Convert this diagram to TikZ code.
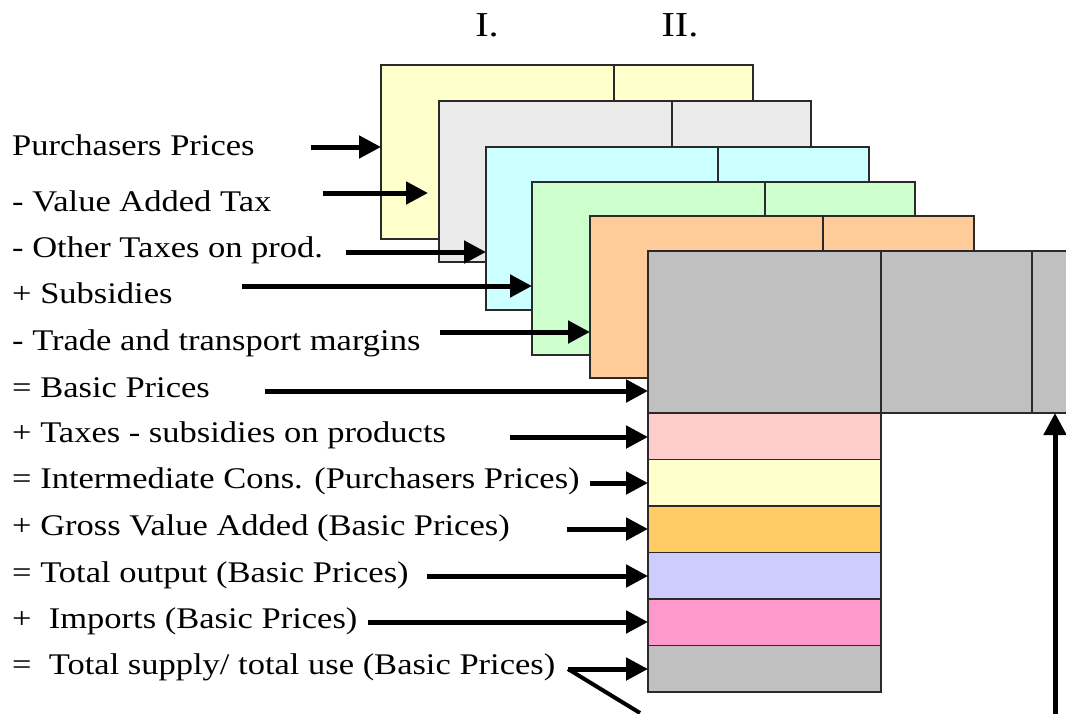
\documentclass[tikz,border=0pt]{standalone}
\usepackage{fontspec}
\setmainfont{Liberation Serif}[FakeStretch=1.15]
\usetikzlibrary{arrows.meta}
\definecolor{cYel}{HTML}{FFFFCC}
\definecolor{cGry}{HTML}{EAEAEA}
\definecolor{cCya}{HTML}{CCFFFF}
\definecolor{cGrn}{HTML}{CCFFCC}
\definecolor{cOra}{HTML}{FFCC99}
\definecolor{cSil}{HTML}{C0C0C0}
\definecolor{cPnk}{HTML}{FFCCCC}
\definecolor{cGld}{HTML}{FFCC66}
\definecolor{cLav}{HTML}{CCCCFF}
\definecolor{cRos}{HTML}{FF99CC}
\definecolor{cEdge}{HTML}{2A2A2A}
\tikzset{
  sheet/.style={draw=cEdge, line width=1.3pt, anchor=north west, inner sep=0pt, outer sep=0pt},
  divider/.style={draw=cEdge, line width=1.6pt},
  rowbox/.style={draw=cEdge, line width=1.3pt, anchor=north west, inner sep=0pt, outer sep=0pt,
    minimum width=233pt, minimum height=46.5pt},
  lab/.style={anchor=base west, inner sep=0pt, font=\fontsize{30}{34}\selectfont},
  ttl/.style={anchor=base, inner sep=0pt, font=\fontsize{35}{40}\selectfont},
  arr/.style={line width=5pt, -{Triangle[length=22pt,width=22pt]}},
  plain/.style={line width=5pt}
}
\begin{document}
\begin{tikzpicture}[x=1pt,y=-1pt]
\clip (0,0) rectangle (1066,713);
\fill[white] (0,0) rectangle (1066,713);
% titles
\node[ttl] (t1) at (487,36) {I.};
\node[ttl] (t2) at (680,36) {II.};
% sheets
\node[sheet, fill=cYel, minimum width=372pt, minimum height=174pt] (s1) at (381,65) {};
\draw[divider] (614,65) -- (614,239);
\node[sheet, fill=cGry, minimum width=372pt, minimum height=161pt] (s2) at (439,101) {};
\draw[divider] (672,101) -- (672,262);
\node[sheet, fill=cCya, minimum width=383pt, minimum height=163pt] (s3) at (486,147) {};
\draw[divider] (718,147) -- (718,310);
\node[sheet, fill=cGrn, minimum width=383pt, minimum height=173pt] (s4) at (532,182) {};
\draw[divider] (765,182) -- (765,355);
\node[sheet, fill=cOra, minimum width=384pt, minimum height=162pt] (s5) at (590,216) {};
\draw[divider] (823,216) -- (823,378);
\node[sheet, fill=cSil, minimum width=440pt, minimum height=162pt] (s6) at (648,251) {};
\draw[divider] (881,251) -- (881,413);
\draw[divider] (1032,251) -- (1032,413);
% stacked rows
\node[rowbox, fill=cPnk] (r1) at (648,413) {};
\node[rowbox, fill=cYel] (r2) at (648,459.5) {};
\node[rowbox, fill=cGld] (r3) at (648,506) {};
\node[rowbox, fill=cLav] (r4) at (648,552.5) {};
\node[rowbox, fill=cRos] (r5) at (648,599) {};
\node[rowbox, fill=cSil] (r6) at (648,645.5) {};
% labels
\node[lab] (l1) at (12,155) {Purchasers Prices};
\node[lab] (l2) at (12,211) {- Value Added Tax};
\node[lab] (l3) at (12,257) {- Other Taxes on prod.};
\node[lab] (l4) at (12,303) {+ Subsidies};
\node[lab] (l5) at (12,350) {- Trade and transport margins};
\node[lab] (l6) at (12,397) {= Basic Prices};
\node[lab] (l7) at (12,442) {+ Taxes - subsidies on products};
\node[lab] (l8) at (12,488) {= Intermediate Cons. (Purchasers Prices)};
\node[lab] (l9) at (12,535) {+ Gross Value Added (Basic Prices)};
\node[lab] (l10) at (12,582) {= Total output (Basic Prices)};
\node[lab] (l11) at (12,628) {+\ \ Imports (Basic Prices)};
\node[lab] (l12) at (12,674) {=\ \ Total supply/ total use (Basic Prices)};
% arrow start points
\coordinate (a1) at (311,147);
\coordinate (a2) at (323,193);
\coordinate (e2) at (428,193);
\coordinate (a3) at (346,252);
\coordinate (a4) at (242,286);
\coordinate (a5) at (440,332);
\coordinate (a6) at (265,391);
\coordinate (a7) at (510,437);
\coordinate (a8) at (590,483);
\coordinate (a9) at (567,529);
\coordinate (a10) at (427,576);
\coordinate (a11) at (368,622);
\coordinate (a12) at (568,669);
\coordinate (d1) at (640,713);
\coordinate (v1) at (1055,720);
% arrows
\draw[arr] (a1) -- (s1.west |- a1);
\draw[arr] (a2) -- (e2);
\draw[arr] (a3) -- (s3.west |- a3);
\draw[arr] (a4) -- (s4.west |- a4);
\draw[arr] (a5) -- (s5.west |- a5);
\draw[arr] (a6) -- (s6.west |- a6);
\draw[arr] (a7) -- (r1.west |- a7);
\draw[arr] (a8) -- (r2.west |- a8);
\draw[arr] (a9) -- (r3.west |- a9);
\draw[arr] (a10) -- (r4.west |- a10);
\draw[arr] (a11) -- (r5.west |- a11);
\draw[arr] (a12) -- (r6.west |- a12);
\draw[line width=4pt] (a12) -- (d1);
\draw[arr] (v1) -- (s6.south -| v1);
\end{tikzpicture}
\end{document}
